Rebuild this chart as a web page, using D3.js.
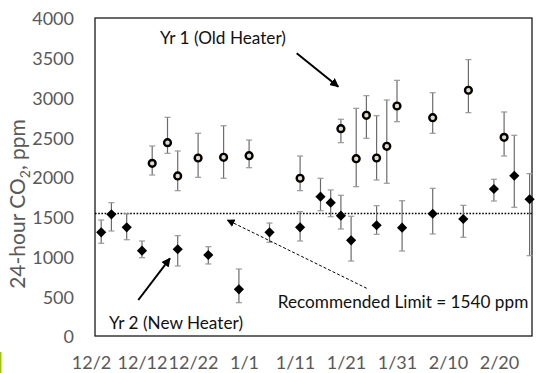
<!DOCTYPE html>
<html><head><meta charset="utf-8">
<script src="https://cdn.jsdelivr.net/npm/d3@7"></script>
<style>body{margin:0;background:#fff}svg{display:block}</style>
</head><body>
<svg id="c" width="545" height="373"></svg>
<script>
// ---- data ----
const tickLabels = ["12/2","12/12","12/22","1/1","1/11","1/21","1/31","2/10","2/20"];
const yTicks = [0,500,1000,1500,2000,2500,3000,3500,4000];

const yr1Dates = ["12/14","12/17","12/19","12/23","12/28","1/2","1/12","1/20","1/23","1/25","1/27","1/29","1/31","2/7","2/14","2/21"];
const yr1Mean  = [2172,2432,2013,2239,2248,2268,1984,2608,2230,2776,2239,2386,2893,2746,3091,2499];
const yr1Low   = [2025,2298,1828,1996,1984,2117,1828,2432,1878,2487,1962,1921,2696,2550,2809,2264];
const yr1High  = [2390,2751,2327,2550,2645,2465,2264,2726,2864,3023,2771,2969,3216,3060,3476,2818];

const yr2Dates = ["12/4","12/6","12/9","12/12","12/19","12/25","12/31","1/6","1/12","1/16","1/18","1/20","1/22","1/27","2/1","2/7","2/13","2/19","2/23","2/26"];
const yr2Mean  = [1304,1531,1367,1073,1091,1019,587,1304,1367,1752,1677,1513,1204,1393,1362,1538,1472,1849,2016,1720];
const yr2Low   = [1166,1321,1211,985,881,906,419,1179,1195,1576,1501,1346,943,1279,1069,1283,1242,1698,1619,1010];
const yr2High  = [1459,1677,1538,1195,1262,1123,843,1421,1564,1984,1837,1770,1506,1639,1702,1858,1644,1971,2525,2042];

const limit = 1540;
const limitLabel = "Recommended Limit = 1540 ppm";
const yr1Label = "Yr 1 (Old Heater)";
const yr2Label = "Yr 2 (New Heater)";

// ---- helpers ----
function parseMD(s){ const [m,d]=s.split("/").map(Number); return new Date(m===12?2013:2014, m-1, d); }

const svg = d3.select("#c");
const plot = {l:95, t:18, r:532, b:336};
const x = d3.scaleTime().domain([parseMD("12/2"), parseMD("2/20")]).range([91, 499]);
const y = d3.scaleLinear().domain([0,4000]).range([plot.b, plot.t]);
const font = "Lato, 'Noto Sans', sans-serif";
const grey = "#595959";

// green artifact at left edge
svg.append("rect").attr("x",0).attr("y",352).attr("width",1.5).attr("height",21).attr("fill","#9dc41f");

// y axis labels
const yAxis = d3.axisLeft(y).tickValues(yTicks).tickSize(0).tickPadding(0).tickFormat(d3.format("d"));
const gy = svg.append("g").attr("transform","translate(74,1)").call(yAxis);
gy.select(".domain").remove();
gy.selectAll("text").attr("font-family",font).attr("font-size",18).attr("fill",grey);

// x axis labels
const xAxis = d3.axisBottom(x).tickValues(tickLabels.map(parseMD)).tickSize(0).tickPadding(0)
  .tickFormat((d,i)=>tickLabels[i]);
const gx = svg.append("g").attr("transform","translate(0,356.3)").call(xAxis);
gx.select(".domain").remove();
gx.selectAll("text").attr("font-family",font).attr("font-size",18).attr("fill",grey);

// y title
const yt = svg.append("text").attr("transform","translate(25,204) rotate(-90)")
  .attr("text-anchor","middle").attr("font-family",font).attr("font-size",21).attr("fill",grey);
yt.append("tspan").text("24-hour CO");
yt.append("tspan").attr("font-size",14).attr("dy",5).text("2");
yt.append("tspan").attr("dy",-5).text(", ppm");

// frame
svg.append("rect").attr("x",plot.l).attr("y",plot.t).attr("width",plot.r-plot.l).attr("height",plot.b-plot.t)
  .attr("fill","none").attr("stroke","#1a1a1a").attr("stroke-width",1.3);

// limit line
svg.append("line").attr("x1",plot.l).attr("x2",plot.r).attr("y1",y(limit)).attr("y2",y(limit))
  .attr("stroke","#000").attr("stroke-width",1.6).attr("stroke-dasharray","1.6,1.6");

// defs arrowheads
const defs = svg.append("defs");
defs.append("marker").attr("id","ah").attr("viewBox","0 0 10 10").attr("refX",9).attr("refY",5)
  .attr("markerWidth",4.5).attr("markerHeight",4.5).attr("orient","auto").attr("markerUnits","strokeWidth")
  .append("path").attr("d","M0,0L10,5L0,10z").attr("fill","#000");
defs.append("marker").attr("id","ah2").attr("viewBox","0 0 10 10").attr("refX",9).attr("refY",5)
  .attr("markerWidth",8).attr("markerHeight",8).attr("orient","auto").attr("markerUnits","strokeWidth")
  .append("path").attr("d","M0,0L10,5L0,10z").attr("fill","#000");

function errBars(dates, lo, hi){
  const g = svg.append("g").attr("stroke","#6b6b6b").attr("stroke-width",1.2);
  dates.forEach((d,i)=>{
    const cx = x(parseMD(d));
    g.append("line").attr("x1",cx).attr("x2",cx).attr("y1",y(lo[i])).attr("y2",y(hi[i]));
    g.append("line").attr("x1",cx-3).attr("x2",cx+3).attr("y1",y(lo[i])).attr("y2",y(lo[i])).attr("stroke","#999");
    g.append("line").attr("x1",cx-3).attr("x2",cx+3).attr("y1",y(hi[i])).attr("y2",y(hi[i])).attr("stroke","#999");
  });
}
errBars(yr1Dates, yr1Low, yr1High);
errBars(yr2Dates, yr2Low, yr2High);

// yr1 markers
svg.append("g").selectAll("circle").data(yr1Dates).join("circle")
  .attr("cx",d=>x(parseMD(d))).attr("cy",(d,i)=>y(yr1Mean[i])).attr("r",3.4)
  .attr("fill","#e2dcc6").attr("stroke","#000").attr("stroke-width",2.4);

// yr2 markers
const diamond = d3.symbol().type(d3.symbolSquare).size(52);
svg.append("g").selectAll("path").data(yr2Dates).join("path")
  .attr("d",diamond)
  .attr("transform",(d,i)=>`translate(${x(parseMD(d))},${y(yr2Mean[i])}) rotate(45)`)
  .attr("fill","#000");

// annotations
svg.append("text").attr("x",223).attr("y",44).attr("text-anchor","middle")
  .attr("font-family",font).attr("font-size",17.2).attr("fill","#111").text(yr1Label);
svg.append("text").attr("x",176).attr("y",329).attr("text-anchor","middle")
  .attr("font-family",font).attr("font-size",17.2).attr("fill","#111").text(yr2Label);
svg.append("text").attr("x",403).attr("y",308).attr("text-anchor","middle")
  .attr("font-family",font).attr("font-size",17.2).attr("fill","#111").text(limitLabel);

svg.append("line").attr("x1",296.7).attr("y1",53.3).attr("x2",338.3).attr("y2",86.7)
  .attr("stroke","#000").attr("stroke-width",2).attr("marker-end","url(#ah)");
svg.append("line").attr("x1",138.3).attr("y1",300).attr("x2",170).attr("y2",258.3)
  .attr("stroke","#000").attr("stroke-width",2).attr("marker-end","url(#ah)");
svg.append("line").attr("x1",366.7).attr("y1",288.3).attr("x2",227.3).attr("y2",220)
  .attr("stroke","#000").attr("stroke-width",1).attr("stroke-dasharray","3,2").attr("marker-end","url(#ah2)");
</script>
</body></html>
